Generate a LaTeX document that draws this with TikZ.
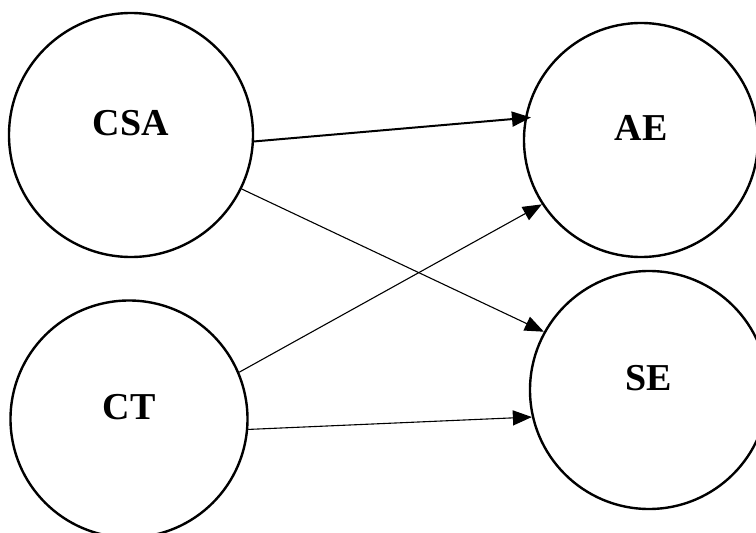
\documentclass[tikz,border=0pt]{standalone}
\usepackage{fontspec}
\setmainfont{Liberation Serif}
\usetikzlibrary{shapes.geometric, arrows.meta}
\tikzstyle{construct} = [circle, draw, line width=2.4pt, inner sep=0pt, text height=0pt, text depth=0pt, font=\fontsize{38}{40}\selectfont\bfseries]
\tikzstyle{arrow} = [line width=1.1pt, -{Triangle[length=19pt, width=15pt]}]
\tikzstyle{thickarrow} = [line width=2pt, -{Triangle[length=19pt, width=15pt]}]

\begin{document}
\begin{tikzpicture}[x=1pt, y=-1pt]
            \useasboundingbox (0,0) rectangle (756,533);
            \node [construct, minimum size=244pt] at (131,135) (csa) {CSA};
            \node [construct, minimum size=237pt] at (129,419) (ct) {CT};
            \node [construct, minimum size=234pt] at (641,140) (ae) {AE};
            \node [construct, minimum size=238pt] at (649,390) (se) {SE};
            \draw [thickarrow] (csa.-3) -- ([xshift=6pt]ae.169);
            \draw [arrow] (csa.-26) -- (se.151);
            \draw [arrow] (ct.23) -- (ae.-147);
            \draw [arrow] (ct.-5) -- (se.-167);
            \end{tikzpicture}
\end{document}
